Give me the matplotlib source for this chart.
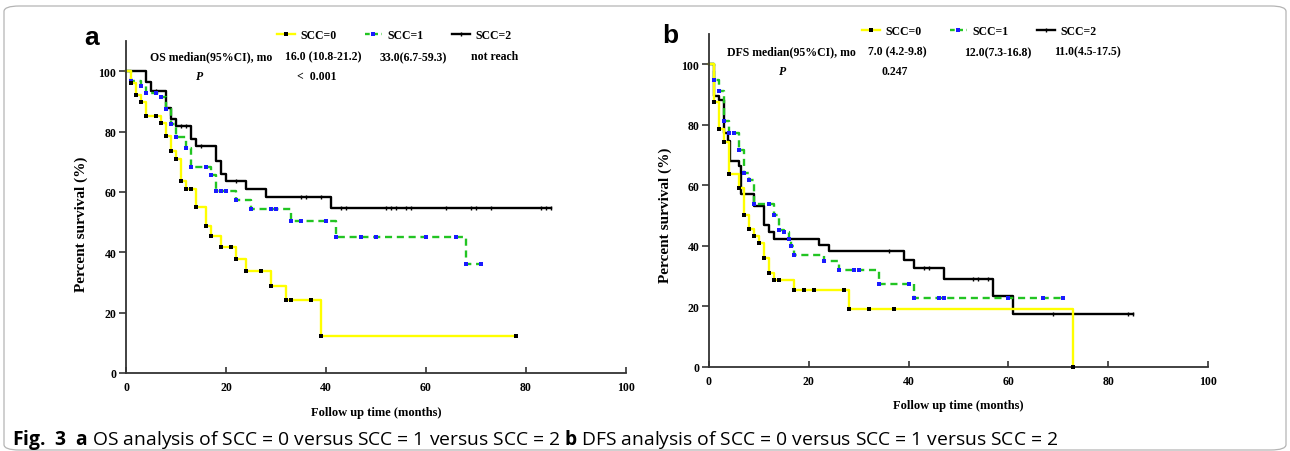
import numpy as np
import matplotlib
matplotlib.use("Agg")
import matplotlib.pyplot as plt
from matplotlib.lines import Line2D
from matplotlib.patches import FancyBboxPatch

W, H = 1290, 452

# --- panel a: OS ---
a0_t = [0, 1, 2, 3, 4, 7, 8, 9, 10, 11, 12, 14, 16, 17, 19, 22, 24, 29, 32, 39, 78]
a0_s = [100, 96.0, 92.0, 89.8, 85.2, 82.8, 78.5, 73.6, 70.9, 63.7, 60.9, 55.1, 48.8,
        45.5, 41.8, 37.7, 33.7, 28.7, 24.2, 12.3, 12.3]
a0_c = [6, 13, 21, 27, 33, 37, 78]

a1_t = [0, 1, 3, 4, 7, 8, 9, 10, 12, 13, 17, 18, 22, 25, 33, 42, 68, 71]
a1_s = [100, 96.8, 95.1, 92.9, 91.3, 87.4, 82.5, 78.3, 74.7, 68.3, 65.7, 60.4, 57.3,
        54.3, 50.2, 44.9, 36.1, 36.1]
a1_c = [3, 6, 16, 19, 20, 29, 30, 35, 40, 47, 50, 60, 66, 71]

a2_t = [0, 4, 5, 8, 9, 10, 13, 14, 18, 19, 20, 24, 28, 41, 85]
a2_s = [100, 96.5, 93.5, 87.7, 84.1, 81.9, 77.5, 75.3, 70.3, 65.9, 63.5, 60.9, 58.2, 54.6, 54.6]
a2_c = [6, 11, 12, 15, 22, 35, 36, 39, 43, 44, 52, 53, 54, 56, 57, 64, 69, 70, 73, 83, 84, 85]

# --- panel b: DFS ---
b0_t = [0, 1, 2, 3, 4, 6, 7, 8, 9, 10, 11, 12, 13, 17, 28, 73]
b0_s = [100, 87.4, 78.6, 74.4, 63.6, 59.2, 50.1, 45.5, 43.3, 41.1, 36.1, 31.1, 28.6,
        25.5, 19.2, 0]
b0_c = [14, 19, 21, 27, 32, 37]

b1_t = [0, 1, 2, 3, 4, 6, 7, 8, 9, 13, 14, 15, 16, 16.5, 17, 23, 26, 34, 41, 71]
b1_s = [100, 94.8, 91.2, 81.3, 77.2, 71.6, 64.1, 61.7, 53.8, 50.3, 45.1, 44.6, 42.4,
        40.0, 37.1, 34.9, 31.9, 27.5, 22.9, 22.9]
b1_c = [5, 12, 15, 29, 30, 40, 46, 47, 60, 67, 71]

b2_t = [0, 1, 2.1, 3, 3.9, 4.3, 6, 6.4, 9, 11, 12, 13, 22, 24, 39, 41, 47, 57, 61, 85]
b2_s = [100, 89.6, 88.2, 77.2, 74.6, 68.0, 66.4, 57.3, 53.2, 46.8, 44.6, 42.4, 40.4,
        38.2, 35.5, 32.8, 29.1, 23.3, 17.5, 17.5]
b2_c = [36, 43, 44, 53, 54, 56, 69, 84, 85]

labels = ["SCC=0", "SCC=1", "SCC=2"]
YELLOW, GREEN, BLUE = "#ffff00", "#22c422", "#1a1aff"
SERIF = "Liberation Serif"


def fx(x):
    return x / W


def fy(y):
    return 1 - y / H


def km(ax, t, s, cens, color, ls, mk, mc, corners):
    t = np.asarray(t, float)
    s = np.asarray(s, float)
    ax.step(t, s, where="post", color=color, lw=1.7, ls=ls, clip_on=False)
    lvl = s[np.searchsorted(t, cens, side="right") - 1]
    if mk == "|":
        kw = dict(ms=3.2, mew=1.0)
    else:
        kw = dict(ms=2.6, mew=0)
    ax.plot(cens, lvl, ls="none", marker=mk, color=mc, clip_on=False, zorder=4, **kw)
    if corners:
        ax.plot(t[1:], s[1:], ls="none", marker=mk, color=mc, clip_on=False, zorder=4, **kw)


def style(ax):
    ax.set_xlim(0, 100)
    ax.set_ylim(0, 110)
    ax.set_xticks(np.arange(0, 101, 20))
    ax.set_yticks(np.arange(0, 101, 20))
    for sp in ["top", "right"]:
        ax.spines[sp].set_visible(False)
    for sp in ["left", "bottom"]:
        ax.spines[sp].set_linewidth(1.3)
        ax.spines[sp].set_color("#333333")
    ax.tick_params(axis="y", direction="out", length=5, width=1.2, color="#333333", pad=2)
    ax.tick_params(axis="x", direction="in", length=4, width=1.2, color="#333333", pad=6)
    for lb in ax.get_xticklabels() + ax.get_yticklabels():
        lb.set_fontfamily(SERIF)
        lb.set_fontweight("bold")
        lb.set_fontsize(8.5)
    ax.set_xlabel("Follow up time (months)", family=SERIF, weight="bold", fontsize=9)
    ax.set_ylabel("Percent survival (%)", family=SERIF, weight="bold", fontsize=11)


fig = plt.figure(figsize=(W / 100, H / 100), dpi=100)

axa = fig.add_axes([fx(126), fy(374), 500 / W, 332 / H])
axb = fig.add_axes([fx(709), fy(368), 499 / W, 333 / H])

for ax, data in [(axa, [(a2_t, a2_s, a2_c), (a1_t, a1_s, a1_c), (a0_t, a0_s, a0_c)]),
                 (axb, [(b2_t, b2_s, b2_c), (b1_t, b1_s, b1_c), (b0_t, b0_s, b0_c)])]:
    (t2, s2, c2), (t1, s1, c1), (t0, s0, c0) = data
    km(ax, t2, s2, c2, "black", "-", "|", "black", False)
    km(ax, t1, s1, c1, GREEN, (0, (3, 2)), "s", BLUE, True)
    km(ax, t0, s0, c0, YELLOW, "-", "s", "black", True)
    style(ax)

axa.yaxis.set_label_coords(-0.076, 0.45)
axa.xaxis.set_label_coords(0.5, -0.1)
axb.yaxis.set_label_coords(-0.074, 0.46)
axb.xaxis.set_label_coords(0.5, -0.097)

handles = [
    Line2D([], [], color=YELLOW, lw=1.7, marker="s", ms=2.6, mew=0, mfc="black"),
    Line2D([], [], color=GREEN, lw=1.7, ls=(0, (2, 1.5)), marker="s", ms=2.6, mew=0, mfc=BLUE),
    Line2D([], [], color="black", lw=1.7, marker="|", ms=3.2, mew=1.0, mec="black"),
]
legkw = dict(ncol=3, frameon=False, loc="center left", borderpad=0, borderaxespad=0,
             handlelength=1.5, handletextpad=0.45, columnspacing=2.4, numpoints=1,
             prop={"family": SERIF, "weight": "bold", "size": 8.5})
fig.legend(handles, labels, bbox_to_anchor=(fx(277), fy(36)), **legkw)
fig.legend(handles, labels, bbox_to_anchor=(fx(862), fy(32)), **legkw)

tk = dict(family=SERIF, weight="bold", fontsize=8.5, va="center", ha="left")
# panel a header
fig.text(fx(150), fy(57), "OS median(95%CI), mo", **tk)
fig.text(fx(285), fy(57), "16.0 (10.8-21.2)", **tk)
fig.text(fx(380), fy(58), "33.0(6.7-59.3)", **tk)
fig.text(fx(471), fy(57), "not reach", **tk)
fig.text(fx(200), fy(77), "P", family=SERIF, weight="bold", style="italic",
         fontsize=8.5, va="center", ha="center")
fig.text(fx(297), fy(77), "<  0.001", **tk)
# panel b header
fig.text(fx(727), fy(52), "DFS median(95%CI), mo", **tk)
fig.text(fx(868), fy(52), "7.0 (4.2-9.8)", **tk)
fig.text(fx(964), fy(53), "12.0(7.3-16.8)", **tk)
fig.text(fx(1054), fy(52), "11.0(4.5-17.5)", **tk)
fig.text(fx(783), fy(72), "P", family=SERIF, weight="bold", style="italic",
         fontsize=8.5, va="center", ha="center")
fig.text(fx(882), fy(72), "0.247", **tk)

# panel letters
fig.text(fx(84), fy(45), "a", family="Liberation Sans", weight="bold", fontsize=19,
         va="baseline", ha="left")
fig.text(fx(662), fy(43), "b", family="Liberation Sans", weight="bold", fontsize=19,
         va="baseline", ha="left")

# caption
plt.rcParams["mathtext.fontset"] = "custom"
plt.rcParams["mathtext.rm"] = "Open Sans"
plt.rcParams["mathtext.bf"] = "Open Sans:bold"
cap = fig.text(fx(12), fy(440),
               r"$\mathbf{Fig.\ 3}$  $\mathbf{a}$ OS analysis of SCC = 0 versus SCC = 1 versus SCC = 2 "
               r"$\mathbf{b}$ DFS analysis of SCC = 0 versus SCC = 1 versus SCC = 2",
               family="Open Sans", fontsize=11, va="center", ha="left")
fig.canvas.draw()
w = cap.get_window_extent(fig.canvas.get_renderer()).width
cap.set_fontsize(11 * 1048 / w)

# outer rounded frame
fig.add_artist(FancyBboxPatch((fx(4), fy(451)), (1282) / W, (444) / H,
                              boxstyle="round,pad=0,rounding_size=0.012",
                              transform=fig.transFigure, fill=False,
                              edgecolor="#b4b4b4", lw=0.9))

fig.savefig("out.png", dpi=100)
